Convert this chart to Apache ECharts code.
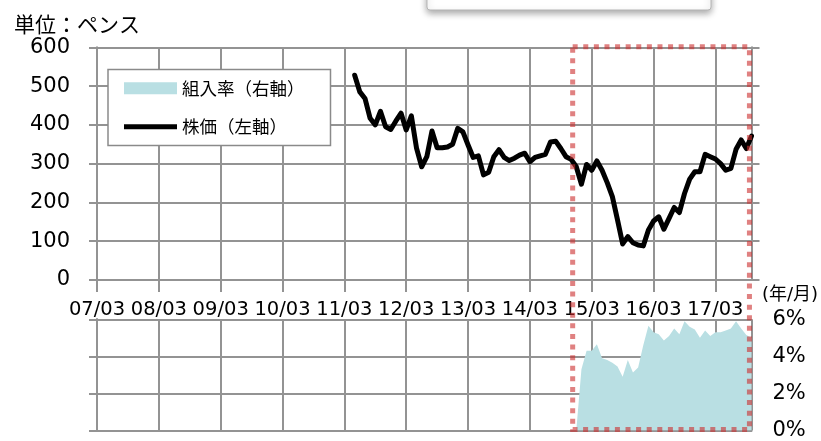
<!DOCTYPE html>
<html>
<head>
<meta charset="utf-8">
<script src="https://cdn.jsdelivr.net/npm/echarts@6/dist/echarts.min.js"></script>
<style>html,body{margin:0;padding:0;background:#fff}#c{width:821px;height:441px}</style>
</head>
<body>
<div id="c"></div>
<script>
// x-axis tick labels (year/month), one every 12 months starting 2007/03
const xTickLabels = ['07/03','08/03','09/03','10/03','11/03','12/03','13/03','14/03','15/03','16/03','17/03'];
const axisStart = '2007/03';
const axisEnd = '2017/10';
// Share price (pence), monthly from 2011/05
const priceStart = '2011/05';
const priceValues = [
  528,485,468,417,400,435,395,388,410,430,
  387,423,340,292,318,384,341,341,343,350,
  391,382,348,316,320,271,278,318,336,316,
  308,314,322,327,305,316,320,324,356,358,
  339,318,311,292,247,298,283,307,283,251,
  215,155,93,112,96,90,88,129,152,163,
  131,159,187,174,223,260,279,279,324,318,
  312,300,283,288,337,361,339,371
];
// Portfolio weight (%), monthly from 2014/12
const ratioStart = '2014/12';
const ratioValues = [
  0,3.3,4.3,4.3,4.65,3.9,3.8,3.65,3.45,2.9,
  3.8,3.13,3.4,4.6,5.65,5.3,5.2,4.85,5.1,5.5,
  5.2,5.9,5.6,5.45,5.0,5.4,5.1,5.3,5.3,5.4,
  5.5,5.9,5.5,5.15,5.0
];
const priceTicks = [0,100,200,300,400,500,600];
const ratioTicks = ['0%','2%','4%','6%'];
const seriesNames = ['組入率（右軸）','株価（左軸）'];

function mIdx(s){const p=s.split('/');return (+p[0]-2007)*12+(+p[1]-3);}
const x0 = mIdx(axisStart), x1 = mIdx(axisEnd);
const priceData = priceValues.map((v,i)=>[mIdx(priceStart)+i, v]);
const ratioData = ratioValues.map((v,i)=>[mIdx(ratioStart)+i, v]);

const GRAY = '#939393';
const NUMFONT = "'DejaVu Sans', 'Noto Sans CJK JP', sans-serif";
const JPFONT = "'Noto Sans CJK JP', sans-serif";
const chart = echarts.init(document.getElementById('c'), null, {renderer:'canvas'});

const lineCommon = {lineStyle:{color:GRAY, width:2}};
chart.setOption({
  animation:false,
  grid:[
    {left:97, right:69.5, top:47.3, height:232.7},
    {left:97, right:69.5, top:319.3, height:115}
  ],
  xAxis:[
    {type:'value', gridIndex:0, min:x0, max:x1, interval:12,
     axisLine:{show:true, ...lineCommon, onZero:false},
     axisTick:{show:true, length:12, ...lineCommon},
     splitLine:{show:true, ...lineCommon},
     axisLabel:{margin:20, fontSize:19.5, fontFamily:NUMFONT, color:'#000',
       showMaxLabel:false,
       formatter:v=> (v%12===0 ? (xTickLabels[v/12]||'') : '')}},
    {type:'value', gridIndex:1, min:x0, max:x1, interval:12,
     axisLine:{show:true, ...lineCommon, onZero:false},
     axisTick:{show:false}, axisLabel:{show:false},
     splitLine:{show:true, ...lineCommon}}
  ],
  yAxis:[
    {type:'value', gridIndex:0, min:0, max:600, interval:100, position:'left',
     axisLine:{show:true, ...lineCommon}, axisTick:{show:true, length:8, ...lineCommon},
     splitLine:{show:true, ...lineCommon},
     axisLabel:{margin:27, fontSize:21, fontFamily:NUMFONT, color:'#000',
       formatter:v=>String(priceTicks[v/100])}},
    {type:'value', gridIndex:0, min:0, max:600, interval:100, position:'right',
     axisLine:{show:true, ...lineCommon}, axisTick:{show:true, length:8, ...lineCommon},
     splitLine:{show:false}, axisLabel:{show:false}},
    {type:'value', gridIndex:1, min:0, max:6, interval:2, position:'right',
     axisLine:{show:true, ...lineCommon}, axisTick:{show:true, length:8, ...lineCommon},
     splitLine:{show:true, ...lineCommon},
     axisLabel:{margin:21, fontSize:21, fontFamily:NUMFONT, color:'#000',
       formatter:v=>ratioTicks[v/2]}},
    {type:'value', gridIndex:1, min:0, max:6, interval:2, position:'left',
     axisLine:{show:true, ...lineCommon}, axisTick:{show:true, length:8, ...lineCommon},
     splitLine:{show:false}, axisLabel:{show:false}}
  ],
  legend:{
    orient:'vertical', left:108, top:69.5,
    padding:[10,26,10,16], itemGap:21, itemWidth:53, itemHeight:12,
    backgroundColor:'#fff', borderColor:'#8a8a8a', borderWidth:1.5, borderRadius:0,
    textStyle:{fontSize:17.5, fontFamily:JPFONT, color:'#000'},
    data:[
      {name:seriesNames[0], icon:'rect', itemStyle:{color:'#b9dfe3'}},
      {name:seriesNames[1], icon:'path://M0,0 h53 v5 h-53 z', itemStyle:{color:'#000'},
       lineStyle:{width:5, color:'#000', cap:'round'}}
    ]
  },
  series:[
    {name:seriesNames[0], type:'line', xAxisIndex:1, yAxisIndex:2, data:ratioData,
     showSymbol:false, symbol:'none', color:'#b9dfe3',
     lineStyle:{width:0}, areaStyle:{color:'#b9dfe3', opacity:1}, z:2},
    {name:seriesNames[1], type:'line', xAxisIndex:0, yAxisIndex:0, data:priceData,
     showSymbol:false, symbol:'none', color:'#000',
     lineStyle:{width:5, color:'#000', cap:'round', join:'round'}, z:3}
  ]
});

// highlight box (red dotted) from late 2014 to the end
const bx0 = chart.convertToPixel({xAxisIndex:0}, 92.3);
const bx1 = chart.convertToPixel({xAxisIndex:0}, 126.6);
const by0 = chart.convertToPixel({yAxisIndex:0}, 600) - 0.5;
const by1 = chart.convertToPixel({yAxisIndex:2}, 0) - 1;
chart.setOption({
  graphic:[
    {type:'rect', shape:{x:427, y:-30, width:284, height:40, r:3},
     style:{fill:'#fff', stroke:'#b5b5b5', lineWidth:1, shadowBlur:7, shadowOffsetY:3, shadowColor:'rgba(0,0,0,0.35)'}, z:1},
    {type:'text', left:14, top:14,
     style:{text:'単位：ペンス', fontSize:21, fontFamily:JPFONT, fill:'#000'}},
    {type:'text', left:762, top:286,
     style:{text:'(年/月)', fontSize:18, fontFamily:NUMFONT, fill:'#000'}},
    {type:'rect', shape:{x:bx0, y:by0, width:bx1-bx0, height:by1-by0},
     style:{fill:'none', stroke:'rgba(204,45,45,0.6)', lineWidth:5, lineDash:[5,5.6]}, z:100}
  ]
});
</script>
</body>
</html>
